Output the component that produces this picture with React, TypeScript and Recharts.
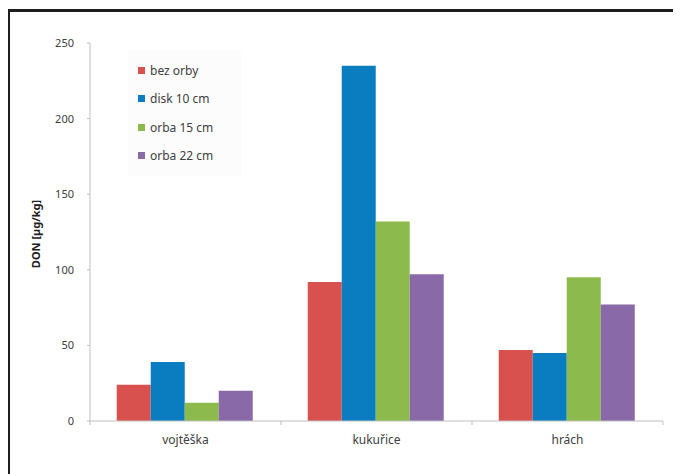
import { BarChart, Bar, XAxis, YAxis } from "recharts";

const categories = ["vojtěška", "kukuřice", "hrách"];
const bezOrby = [24, 92, 47];
const disk10 = [39, 235, 45];
const orba15 = [12, 132, 95];
const orba22 = [20, 97, 77];
const yTicks = [0, 50, 100, 150, 200, 250];

const series = [
  { key: "bezOrby", name: "bez orby", color: "#D9514E", values: bezOrby },
  { key: "disk10", name: "disk 10 cm", color: "#0A7CC0", values: disk10 },
  { key: "orba15", name: "orba 15 cm", color: "#8CBA4C", values: orba15 },
  { key: "orba22", name: "orba 22 cm", color: "#8A69A8", values: orba22 },
];

const data = categories.map((c, i) => {
  const row: Record<string, string | number> = { name: c };
  series.forEach((s) => (row[s.key] = s.values[i]));
  return row;
});

const W = 660;
const H = 460;
const M = { top: 31, right: 7, left: 0, bottom: 21 };
const Y_W = 80;
const band = (W - M.left - M.right - Y_W) / categories.length;
const font = "'Noto Sans', 'Open Sans', sans-serif";

const CatTick = (props: any) => {
  const { x, y, payload, index } = props;
  const l = x - band / 2;
  return (
    <g>
      <line x1={l} y1={y} x2={l} y2={y + 4} stroke="#bfbfbf" />
      {index === categories.length - 1 && (
        <line x1={x + band / 2} y1={y} x2={x + band / 2} y2={y + 4} stroke="#bfbfbf" />
      )}
      <text x={x} y={y + 23} textAnchor="middle" fontSize={12} fill="#404040" fontFamily={font}>
        {payload.value}
      </text>
    </g>
  );
};

const LegendBox = () => (
  <div
    style={{
      position: "absolute",
      left: 118,
      top: 38,
      background: "#fcfcfc",
      padding: "6px 10px",
      width: 93,
    }}
  >
    {series.map((s) => (
      <div
        key={s.key}
        style={{ display: "flex", alignItems: "center", height: 28.5, fontSize: 12, color: "#404040", fontFamily: font }}
      >
        <span style={{ width: 7, height: 7, background: s.color, marginRight: 5, display: "inline-block" }} />
        {s.name}
      </div>
    ))}
  </div>
);

const YLabel = () => (
  <text
    x={30}
    y={222}
    transform="rotate(-90 30 222)"
    textAnchor="middle"
    fontSize={11}
    fontWeight="bold"
    fill="#222"
    fontFamily={font}
  >
    DON [µg/kg]
  </text>
);

export default function App() {
  return (
    <div style={{ width: 674, height: 466, overflow: "hidden", marginLeft: -1, marginTop: 1 }}>
      <div
        style={{
          position: "relative",
          width: 720,
          height: 520,
          border: "3px solid #1e1e1e",
          boxSizing: "border-box",
          background: "#fff",
        }}
      >
        <BarChart width={W} height={H} data={data} margin={M} barCategoryGap="14%" barGap={0}>
          <XAxis
            dataKey="name"
            stroke="#bfbfbf"
            tickLine={false}
            tickSize={0}
            tickMargin={0}
            height={30}
            tick={<CatTick />}
            interval={0}
          />
          <YAxis
            width={Y_W}
            domain={[0, 250]}
            ticks={yTicks}
            stroke="#bfbfbf"
            tickSize={3}
            tickMargin={13}
            tick={{ fontSize: 11, fill: "#404040", fontFamily: font }}
          />
          {series.map((s) => (
            <Bar key={s.key} dataKey={s.key} name={s.name} fill={s.color} isAnimationActive={false} />
          ))}
          <YLabel />
        </BarChart>
        <LegendBox />
      </div>
    </div>
  );
}
